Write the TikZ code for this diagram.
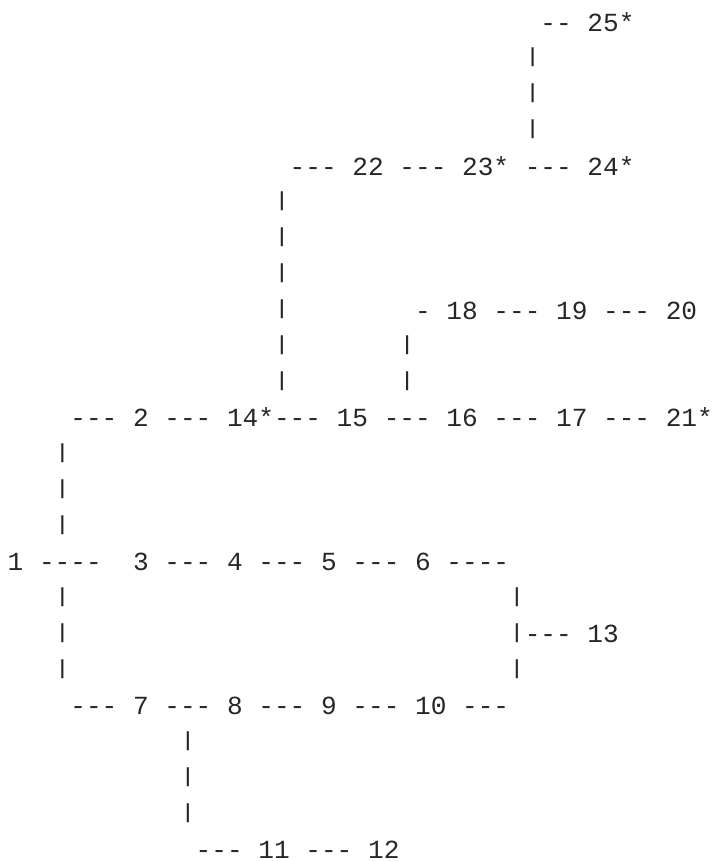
\documentclass[tikz,border=0pt]{standalone}
\usepackage{fontspec}
\usepackage{graphicx}
\newfontfamily\asciimono{Liberation Mono}
\tikzset{tok/.style={anchor=base west, inner sep=0pt, outer sep=0pt, text=black!85,
  font=\asciimono\fontsize{19.59pt}{23pt}\selectfont}}
\newcommand\tk[4]{\node[tok] (#1) at ({7.67+#2*15.67},{31.3+#3*35.97}) {#4};}
\newcommand\vbarchar{\raisebox{0.17em}{\scalebox{1}[0.78]{|}}}
\newcommand\vb[3]{\tk{#1}{#2}{#3}{\vbarchar}}
\begin{document}
\begin{tikzpicture}[x=0.75pt,y=-0.75pt]
\useasboundingbox (0,0) rectangle (712,861);
% row 0
\tk{d0}{34}{0}{--} \tk{n25}{37}{0}{25*}
\vb{v1}{33}{1} \vb{v2}{33}{2} \vb{v3}{33}{3}
% row 4
\tk{d4a}{18}{4}{---} \tk{n22}{22}{4}{22} \tk{d4b}{25}{4}{---} \tk{n23}{29}{4}{23*}
\tk{d4c}{33}{4}{---} \tk{n24}{37}{4}{24*}
% rows 5-10
\vb{v5}{17}{5} \vb{v6}{17}{6} \vb{v7}{17}{7} \vb{v8}{17}{8}
\vb{v9}{17}{9} \vb{v10}{17}{10}
\tk{d8a}{26}{8}{-} \tk{n18}{28}{8}{18} \tk{d8b}{31}{8}{---} \tk{n19}{35}{8}{19}
\tk{d8c}{38}{8}{---} \tk{n20}{42}{8}{20}
\vb{w9}{25}{9} \vb{w10}{25}{10}
% row 11
\tk{d11a}{4}{11}{---} \tk{n2}{8}{11}{2} \tk{d11b}{10}{11}{---} \tk{n14}{14}{11}{14*}
\tk{d11c}{17}{11}{---} \tk{n15}{21}{11}{15} \tk{d11d}{24}{11}{---} \tk{n16}{28}{11}{16}
\tk{d11e}{31}{11}{---} \tk{n17}{35}{11}{17} \tk{d11f}{38}{11}{---} \tk{n21}{42}{11}{21*}
% rows 12-14
\vb{v12}{3}{12} \vb{v13}{3}{13} \vb{v14}{3}{14}
% row 15
\tk{n1}{0}{15}{1} \tk{d15a}{2}{15}{----} \tk{n3}{8}{15}{3} \tk{d15b}{10}{15}{---}
\tk{n4}{14}{15}{4} \tk{d15c}{16}{15}{---} \tk{n5}{20}{15}{5} \tk{d15d}{22}{15}{---}
\tk{n6}{26}{15}{6} \tk{d15e}{28}{15}{----}
% rows 16-18
\vb{v16}{3}{16} \vb{v17}{3}{17} \vb{v18}{3}{18}
\vb{w16}{32}{16} \vb{w17}{32}{17} \tk{d17}{33}{17}{---} \tk{n13}{37}{17}{13} \vb{w18}{32}{18}
% row 19
\tk{d19a}{4}{19}{---} \tk{n7}{8}{19}{7} \tk{d19b}{10}{19}{---} \tk{n8}{14}{19}{8}
\tk{d19c}{16}{19}{---} \tk{n9}{20}{19}{9} \tk{d19d}{22}{19}{---} \tk{n10}{26}{19}{10}
\tk{d19e}{29}{19}{---}
% rows 20-22
\vb{v20}{11}{20} \vb{v21}{11}{21} \vb{v22}{11}{22}
% row 23
\tk{d23a}{12}{23}{---} \tk{n11}{16}{23}{11} \tk{d23b}{19}{23}{---} \tk{n12}{23}{23}{12}
\end{tikzpicture}
\end{document}
